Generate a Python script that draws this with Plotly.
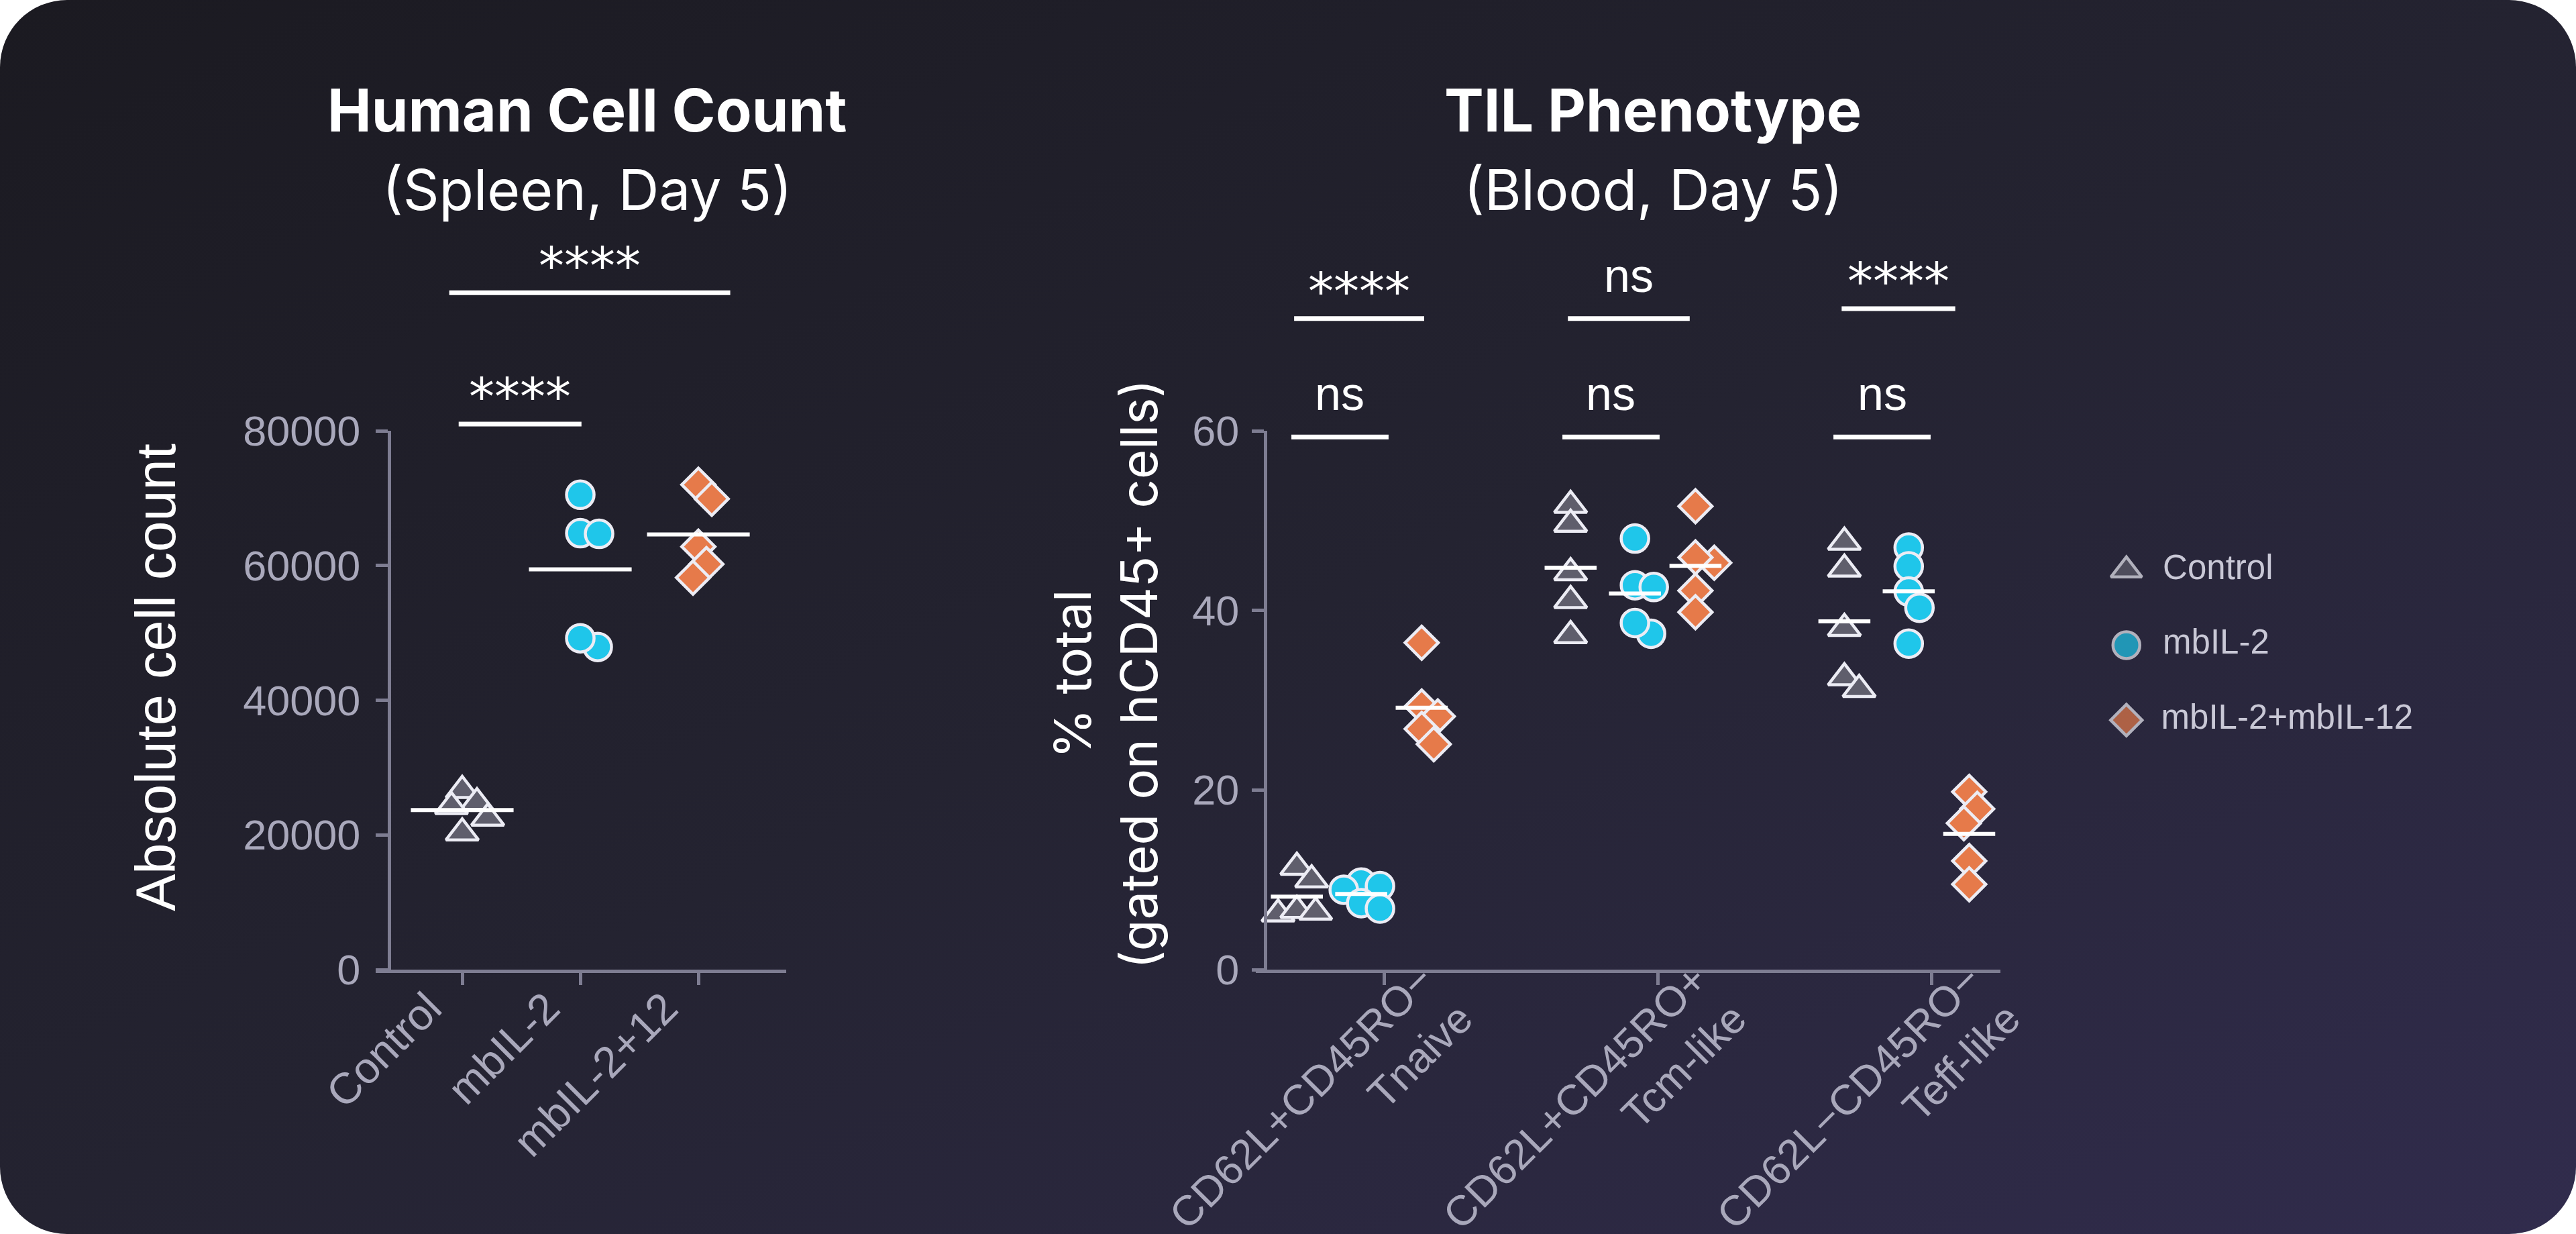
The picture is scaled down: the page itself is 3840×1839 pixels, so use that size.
import base64
import numpy as np
import plotly.graph_objects as go

# ---- values ----
groups = ["Control", "mbIL-2", "mbIL-2+mbIL-12"]

# left panel: absolute human cell count, spleen day 5
count_labels = ["Control", "mbIL-2", "mbIL-2+12"]
count_control = [26600, 24800, 22500, 24200, 20300]
count_mbil2 = [70500, 64800, 64700, 47900, 49200]
count_mbil2_12 = [72000, 69900, 62800, 60200, 58200]
count_sig = ["****", "****"]

# right panel: TIL phenotype, % of hCD45+ cells in blood, day 5
pheno_labels = ["CD62L+CD45RO−<br>Tnaive", "CD62L+CD45RO+<br>Tcm-like", "CD62L−CD45RO−<br>Teff-like"]
pheno_control = [[11.4, 10.0, 6.2, 6.6, 6.4], [51.7, 49.6, 44.2, 41.1, 37.2], [47.6, 44.6, 38.0, 32.5, 31.2]]
pheno_mbil2 = [[9.7, 9.3, 8.9, 7.4, 6.8], [48.0, 42.8, 42.6, 37.4, 38.6], [47.0, 44.9, 42.1, 40.3, 36.3]]
pheno_mbil2_12 = [[36.4, 29.3, 28.2, 26.8, 25.1], [51.6, 45.3, 45.9, 42.2, 39.8], [19.8, 17.9, 16.3, 12.1, 9.5]]
pheno_sig_top = ["****", "ns", "****"]
pheno_sig_low = ["ns", "ns", "ns"]

# ---- styling ----
W, H = 3840, 1839
symbols = ["triangle-up", "circle", "diamond"]
fills = ["#5f5e6c", "#1fc6ea", "#e67a4a"]
msize = [42, 41, 38]
edge = "#ececf4"
axis_col = "#7e7d92"
tick_col = "#a9a8bb"
sans = "Liberation Sans, Arial, sans-serif"
geo = "Inter, Lato, sans-serif"

L_RANGE = [-0.733, 2.744]
L_YMAX = 80000
R_RANGE = [-0.47, 2.25]
R_YMAX = 60
px_l = (176.0, 803 / 80000)   # px per x unit, px per y unit
px_r = (408.0, 801 / 60)
pheno_offsets = [-0.32, -0.085, 0.136]


def swarm(values, py, min_dist=28.0, step=2.0):
    """simple beeswarm: horizontal pixel offsets so markers don't pile up"""
    placed = []
    offs = np.zeros(len(values))
    for i in np.argsort(values)[::-1]:
        y = values[i] * py
        k = 0
        while True:
            cands = [0.0] if k == 0 else [k * step, -k * step]
            hit = None
            for c in cands:
                if all((c - a) ** 2 + (y - b) ** 2 >= min_dist ** 2 for a, b in placed):
                    hit = c
                    break
            if hit is not None:
                break
            k += 1
        offs[i] = hit
        placed.append((hit, y))
    return offs


fig = go.Figure()

# left panel points + mean lines
for g, vals in enumerate([count_control, count_mbil2, count_mbil2_12]):
    dx = swarm(vals, px_l[1]) / px_l[0]
    fig.add_trace(go.Scatter(
        x=g + dx, y=vals, mode="markers", xaxis="x", yaxis="y",
        marker=dict(symbol=symbols[g], size=msize[g], color=fills[g],
                    line=dict(color=edge, width=4.5)),
        showlegend=False, hoverinfo="y"))
for g, vals in enumerate([count_control, count_mbil2, count_mbil2_12]):
    m = float(np.mean(vals))
    fig.add_trace(go.Scatter(
        x=[g - 0.435, g + 0.435], y=[m, m], mode="lines", xaxis="x", yaxis="y",
        line=dict(color="white", width=6), showlegend=False, hoverinfo="skip"))

# right panel points + mean lines
sets = [pheno_control, pheno_mbil2, pheno_mbil2_12]
for c in range(3):
    for g in range(3):
        vals = sets[g][c]
        dx = swarm(vals, px_r[1]) / px_r[0]
        fig.add_trace(go.Scatter(
            x=c + pheno_offsets[g] + dx, y=vals, mode="markers", xaxis="x2", yaxis="y2",
            marker=dict(symbol=symbols[g], size=msize[g], color=fills[g],
                        line=dict(color=edge, width=4.5)),
            showlegend=False, hoverinfo="y"))
for c in range(3):
    for g in range(3):
        m = float(np.mean(sets[g][c]))
        xc = c + pheno_offsets[g]
        fig.add_trace(go.Scatter(
            x=[xc - 0.095, xc + 0.095], y=[m, m], mode="lines", xaxis="x2", yaxis="y2",
            line=dict(color="white", width=6), showlegend=False, hoverinfo="skip"))

# legend drawn as its own small subplot
fig.add_trace(go.Scatter(
    x=[0, 0, 0], y=groups, mode="markers+text", xaxis="x3", yaxis="y3",
    text=["  " + s for s in groups], textposition="middle right",
    textfont=dict(family=sans, size=51, color="#c9c8d6"),
    marker=dict(symbol=symbols, size=[40, 40, 36], color=fills,
                line=dict(color=edge, width=4.5)),
    showlegend=False, hoverinfo="skip"))


def dom(v, r):
    return (v - r[0]) / (r[1] - r[0])


shapes, annos = [], []


def note(**kw):
    kw.setdefault("showarrow", False)
    kw.setdefault("xanchor", "center")
    kw.setdefault("yanchor", "middle")
    annos.append(kw)


def sig(xa, xb, yfrac, label, xr, xdom_ref, ydom_ref):
    shapes.append(dict(type="line", xref=xdom_ref, yref=ydom_ref,
                       x0=dom(xa, xr), x1=dom(xb, xr), y0=yfrac, y1=yfrac,
                       line=dict(color="white", width=7)))
    star = label.startswith("*")
    note(xref=xdom_ref, yref=ydom_ref, x=dom((xa + xb) / 2, xr), y=yfrac,
         text=label, yshift=40 if star else 64,
         font=dict(family="DejaVu Sans" if star else sans,
                   size=76 if star else 70, color="white"))


# left comparisons: control vs mbIL-2, control vs mbIL-2+12
sig(-0.03, 1.01, 81000 / L_YMAX, count_sig[0], L_RANGE, "x domain", "y domain")
sig(-0.11, 2.27, 100500 / L_YMAX, count_sig[1], L_RANGE, "x domain", "y domain")
# right comparisons per phenotype
top_y = [72.5, 72.5, 73.6]
for c in range(3):
    sig(c - 0.33, c + 0.145 - 0.03 * c, top_y[c] / R_YMAX, pheno_sig_top[c],
        R_RANGE, "x2 domain", "y2 domain")
    sig(c - 0.34 - 0.01 * c, c + 0.015 - 0.01 * c, 59.3 / R_YMAX, pheno_sig_low[c],
        R_RANGE, "x2 domain", "y2 domain")

# titles
for xc, t1, t2 in [(875, "Human Cell Count", "(Spleen, Day 5)"),
                   (2464, "TIL Phenotype", "(Blood, Day 5)")]:
    note(xref="paper", yref="paper", x=xc / W, y=1 - 164 / H, text="<b>" + t1 + "</b>",
         font=dict(family=geo, size=88, color="white"))
    note(xref="paper", yref="paper", x=xc / W, y=1 - 282 / H, text=t2,
         font=dict(family=geo, size=84, color="white"))

# y titles
note(xref="paper", yref="paper", x=233 / W, y=1 - 1010 / H, text="Absolute cell count",
     textangle=-90, font=dict(family=sans, size=83, color="white"))
note(xref="paper", yref="paper", x=1647 / W, y=1 - 1005 / H,
     text="% total<br>(gated on hCD45+ cells)",
     textangle=-90, font=dict(family=geo, size=76, color="white"))

# background card with diagonal gradient and rounded corners
svg = (f'<svg xmlns="http://www.w3.org/2000/svg" width="{W}" height="{H}" '
       f'viewBox="0 0 {W} {H}" preserveAspectRatio="none">'
       '<defs><linearGradient id="g" x1="0" y1="0" x2="1" y2="1">'
       '<stop offset="0" stop-color="#1b1a21"/>'
       '<stop offset="0.5" stop-color="#242331"/>'
       '<stop offset="1" stop-color="#312c4d"/>'
       '</linearGradient></defs>'
       f'<rect x="0" y="0" width="{W}" height="{H}" rx="100" ry="100" fill="url(#g)"/></svg>')
bg = "data:image/svg+xml;base64," + base64.b64encode(svg.encode()).decode()

ydom = [1 - 1445 / H, 1 - 642 / H]
# automargin off: margins stay at 0 so the domains land where they were measured
common_axis = dict(showgrid=False, zeroline=False, showline=True, linecolor=axis_col, linewidth=5,
                   ticks="outside", ticklen=18, tickwidth=5, tickcolor=axis_col, automargin=False,
                   tickfont=dict(family=sans, size=63, color=tick_col))

fig.update_layout(
    width=W, height=H, autosize=False,
    margin=dict(l=0, r=0, t=0, b=0, pad=0),
    paper_bgcolor="white", plot_bgcolor="rgba(0,0,0,0)",
    showlegend=False,
    images=[dict(source=bg, xref="paper", yref="paper", x=0, y=1, sizex=1, sizey=1,
                 sizing="stretch", layer="below", xanchor="left", yanchor="top")],
    xaxis=dict(common_axis, domain=[560 / W, 1172 / W], range=L_RANGE,
               tickvals=[0, 1, 2], ticktext=count_labels, tickangle=-45,
               ticklabelstandoff=-30, ticklabelshift=-50,
               tickfont=dict(family=sans, size=65, color=tick_col)),
    yaxis=dict(common_axis, domain=ydom, range=[0, L_YMAX], anchor="free", position=580 / W,
               tickvals=[0, 20000, 40000, 60000, 80000], tickformat="d", ticklabelstandoff=10),
    xaxis2=dict(common_axis, domain=[1872 / W, 2982 / W], range=R_RANGE, anchor="y2",
                tickvals=[0, 1, 2], ticktext=pheno_labels, tickangle=-45,
                ticklabelstandoff=-70, ticklabelshift=55,
                tickfont=dict(family=sans, size=63, color=tick_col)),
    yaxis2=dict(common_axis, domain=ydom, range=[0, R_YMAX], anchor="free", position=1886 / W,
                tickvals=[0, 20, 40, 60], ticklabelstandoff=6),
    xaxis3=dict(domain=[0.80, 0.99], range=[-0.134, 0.866], visible=False, anchor="y3",
                automargin=False),
    yaxis3=dict(domain=[1 - 1129 / H, 1 - 794 / H], type="category", categoryarray=groups,
                range=[2.5, -0.5], visible=False, anchor="x3", automargin=False),
    shapes=shapes,
    annotations=annos,
)

page_fix = (
    "document.documentElement.style.margin='0';"
    "document.body.style.margin='0';"
)
fig.write_html("out.html", config={"staticPlot": True}, post_script=page_fix)
